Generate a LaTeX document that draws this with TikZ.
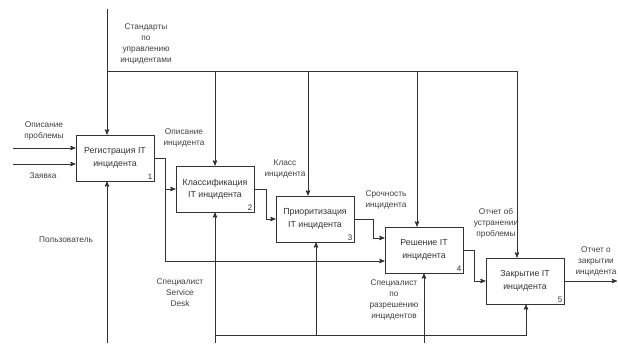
\documentclass[tikz,border=0pt]{standalone}
\usepackage{fontspec}
\setmainfont{Liberation Sans}
\usetikzlibrary{calc}
\usetikzlibrary{arrows}

\begin{document}
\begin{tikzpicture}[x=1pt, y=-1pt, >=stealth',
  line/.style={black!80, line width=0.9pt},
  flow/.style={line, ->},
  box/.style={line, draw, fill=white, minimum width=78pt, minimum height=46pt, align=center,
    font=\fontsize{8.8}{12.5}\selectfont, text=black!80},
  lbl/.style={align=center, inner sep=0pt, font=\fontsize{8.3}{11}\selectfont, text=black!75},
  num/.style={anchor=south east, inner sep=2pt, font=\fontsize{8}{9}\selectfont, text=black!80}]
\useasboundingbox (0,0) rectangle (618,343);

% blocks
\node[box] (b1) at (115,158) {Регистрация IT\\инцидента};
\node[box] (b2) at (215,189) {Классификация\\IT инцидента};
\node[box] (b3) at (315,219) {Приоритизация\\IT инцидента};
\node[box] (b4) at (424,250) {Решение IT\\инцидента};
\node[box] (b5) at (525,281) {Закрытие IT\\инцидента};
\foreach \b/\n in {b1/1,b2/2,b3/3,b4/4,b5/5}
  \node[num] (n\n) at (\b.south east) {\n};

% labels
\node[lbl] (tstd) at (146,44) {Стандарты\\по\\управлению\\инцидентами};
\node[lbl] (tprobl) at (44,131) {Описание\\проблемы};
\node[lbl] (tzayav) at (43,176) {Заявка};
\node[lbl] (tuser) at (66,240) {Пользователь};
\node[lbl] (topis) at (184,138) {Описание\\инцидента};
\node[lbl] (tklass) at (285,169) {Класс\\инцидента};
\node[lbl] (tsroch) at (386,200) {Срочность\\инцидента};
\node[lbl] (totch) at (496,223) {Отчет об\\устранении\\проблемы};
\node[lbl] (tclose) at (596,261) {Отчет о\\закрытии\\инцидента};
\node[lbl] (tsd) at (180,293) {Специалист\\Service\\Desk};
\node[lbl] (tsolv) at (394,300) {Специалист\\по\\разрешению\\инцидентов};

% free ends and turning points
\coordinate (probl) at (13,148);
\coordinate (zayav) at (13,164);
\coordinate (std) at (107,9);
\coordinate (stdbar) at (107,71);
\coordinate (user) at (107,343);
\coordinate (sd) at (215,343);
\coordinate (sdbar) at (215,335);
\coordinate (solver) at (424,343);
\coordinate (out) at (617,281);
\coordinate (c3) at ($(b3.north)+(-7,0)$);
\coordinate (c4) at ($(b4.north)+(-7,0)$);
\coordinate (c5) at ($(b5.north)+(-8,0)$);
\coordinate (m3) at ($(b3.south)+(1,0)$);
\coordinate (m5) at ($(b5.south)+(1,0)$);
\coordinate (s1) at ($(b1.east)+(11,0)$);
\coordinate (i4a) at ($(b4.west)+(0,-12)$);
\coordinate (i4b) at ($(b4.west)+(0,11)$);

% inputs
\draw[flow] (probl) -- (probl -| b1.west);
\draw[flow] (zayav) -- (zayav -| b1.west);

% controls
\draw[flow] (std) -- (std |- b1.north);
\draw[flow] (stdbar) -| (c5);
\foreach \c in {b2.north,c3,c4}
  \draw[flow] (\c |- stdbar) -- (\c);

% outputs
\draw[flow] (b1.east) -- (s1) |- (b2.west);
\draw[flow] (s1) |- (i4b);
\draw[flow] (b2.east) -- ++(12,0) |- (b3.west);
\draw[flow] (b3.east) -- ++(19,0) |- (i4a);
\draw[flow] (b4.east) -- ++(11,0) |- (b5.west);
\draw[flow] (b5.east) -- (out);

% mechanisms
\draw[flow] (user) -- (user |- b1.south);
\draw[flow] (sd) -- (b2.south);
\draw[flow] (sdbar) -| (m5);
\draw[flow] (m3 |- sdbar) -- (m3);
\draw[flow] (solver) -- (b4.south);
\end{tikzpicture}
\end{document}
